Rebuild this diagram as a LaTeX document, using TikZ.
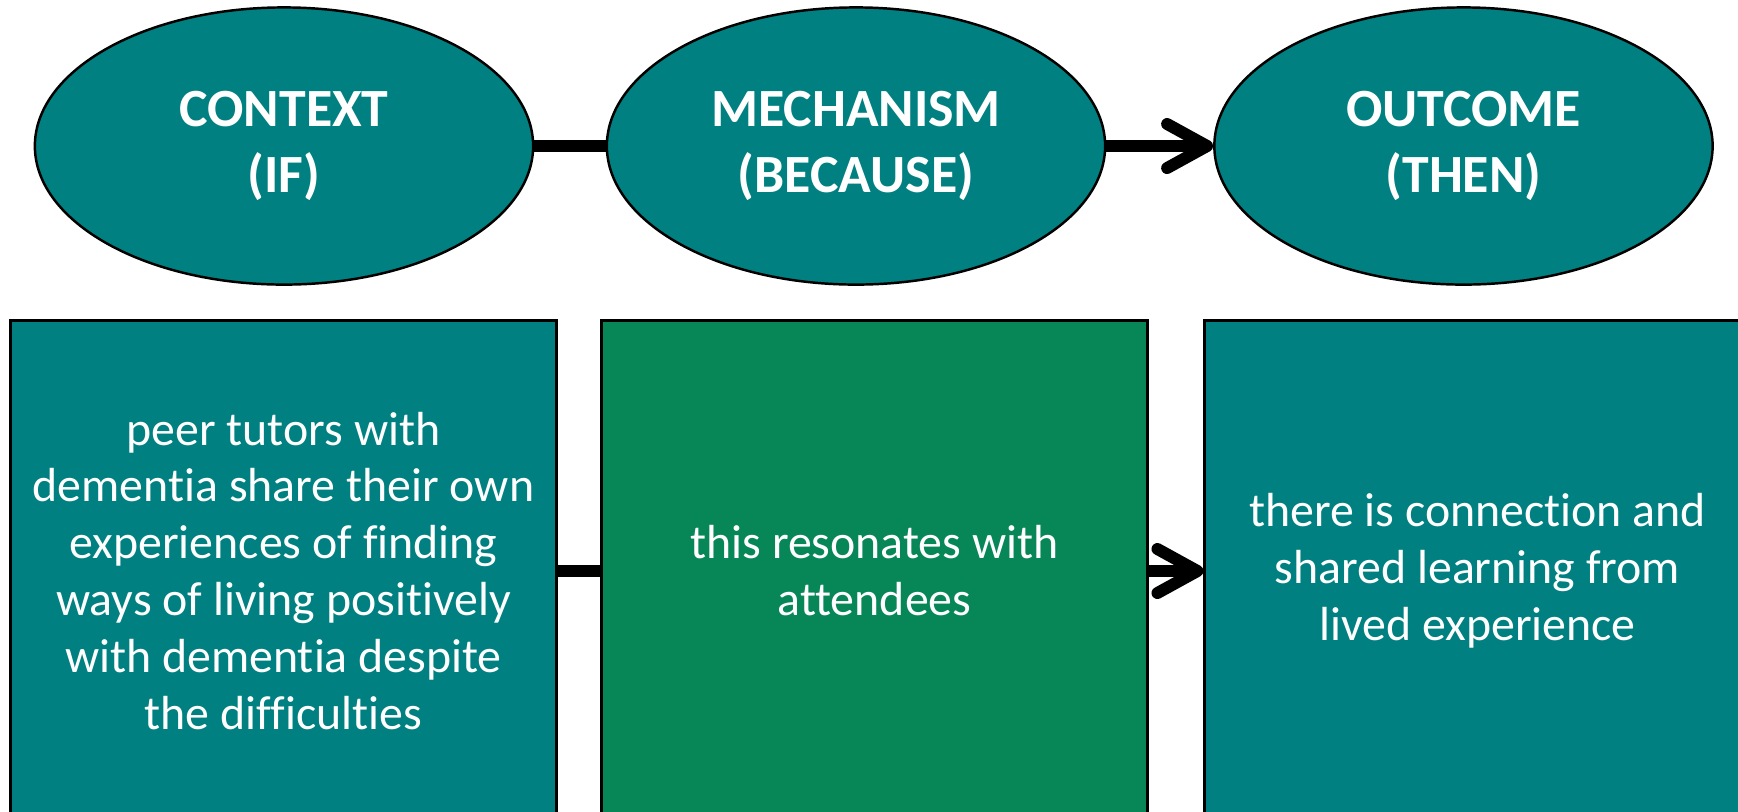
\documentclass[tikz,border=0pt]{standalone}
\usepackage{fontspec}
\setmainfont{Carlito}[Ligatures=NoCommon]
\usetikzlibrary{shapes.geometric,arrows.meta}
\definecolor{tealbox}{HTML}{008080}
\definecolor{greenbox}{HTML}{078658}
\tikzset{
  stage/.style={ellipse,draw=black,line width=0.7pt,fill=tealbox,text=white,
    minimum width=4.98cm,minimum height=2.77cm,inner sep=0pt,align=center,
    font=\fontsize{15.3}{19}\selectfont\bfseries},
  card/.style={rectangle,draw=black,line width=0.8pt,text=white,
    minimum width=5.45cm,minimum height=5cm,inner sep=0pt,align=center,
    font=\fontsize{13.6}{16.2}\selectfont},
  link/.style={line width=3.4pt},
  arrowlink/.style={line width=3.4pt,-{Straight Barb[length=4mm,width=4.4mm,line cap=round,line join=round]}}
}
\begin{document}
\begin{tikzpicture}[x=0.01cm,y=-0.01cm]
    \useasboundingbox (0,0) rectangle (1738,811);
    \clip (0,0) rectangle (1738,811);
    \node[stage](ctx)at(284,146){CONTEXT\\(IF)};
    \node[stage](mech)at(856,146){MECHANISM\\(BECAUSE)};
    \node[stage](out)at(1463.5,146){OUTCOME\\(THEN)};

    \node[card,fill=tealbox](ctxbox)at(283.5,571){peer tutors with\\dementia share their own\\experiences of finding\\ways of living positively\\with dementia despite\\the difficulties};
    \node[card,fill=greenbox](mechbox)at(874.5,571){this resonates with\\attendees};
    \node[card,fill=tealbox](outbox)at(1477.5,571){there is connection and\\shared learning from\\lived experience};

    \draw[link] (ctx) to (mech);
    \draw[arrowlink] (mech) to (out);
    \draw[link] (ctxbox) to (mechbox);
    \draw[arrowlink] (mechbox) to (outbox);
  \end{tikzpicture}
\end{document}
